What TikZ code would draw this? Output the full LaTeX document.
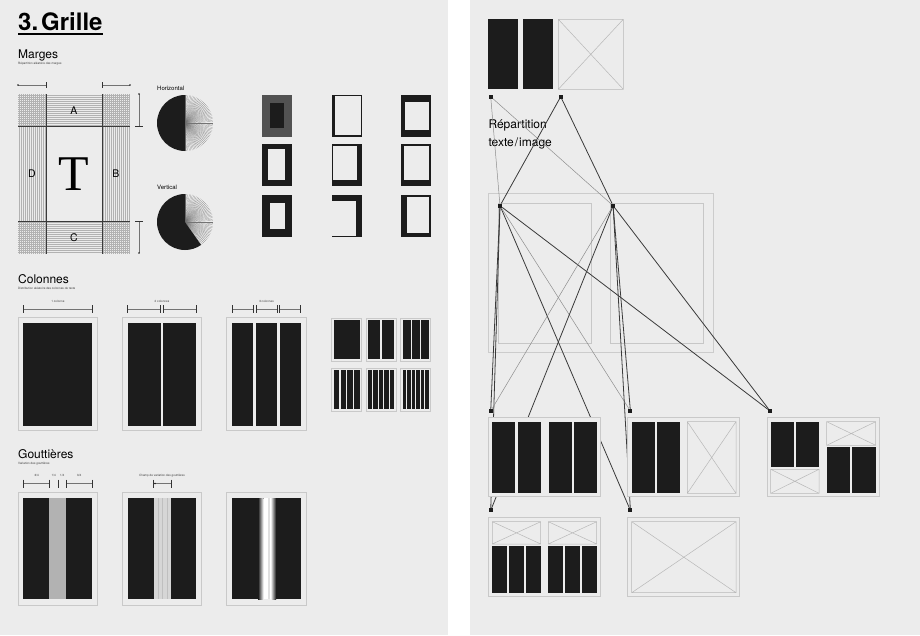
\documentclass[tikz,border=0pt]{standalone}
\usepackage{fontspec}
\setmainfont{TeX Gyre Heros}
\newfontfamily\serifT{Liberation Serif}
\usetikzlibrary{positioning}

\definecolor{paper}{HTML}{ECECEC}
\definecolor{ink}{HTML}{1C1C1C}
\definecolor{rule}{HTML}{C9C9C9}
\definecolor{wire}{HTML}{3A3A3A}
\definecolor{wiregrey}{HTML}{8E8E8E}

\tikzset{
  page/.style={draw=rule, line width=1pt, fill=paper},
  img/.style={draw=black!28, line width=0.5pt},
  dot/.style={fill=ink, inner sep=0pt, minimum size=4pt},
  wire/.style={draw=wire, line width=0.8pt},
  thinwire/.style={draw=wiregrey, line width=0.5pt},
  dimline/.style={draw=black!55, line width=0.35pt},
  tick/.style={draw=black!80, line width=0.9pt},
  hatchline/.style={draw=black!30, line width=0.3pt},
  fanline/.style={draw=black!55, line width=0.15pt},
  title/.style={anchor=base west, inner sep=0pt, font=\fontsize{24}{24}\selectfont\bfseries},
  heading/.style={anchor=base west, inner sep=0pt, font=\fontsize{12}{12}\selectfont},
  subhead/.style={anchor=base west, inner sep=0pt, font=\fontsize{3}{3}\selectfont, text=black!75},
  dimlabel/.style={anchor=base, inner sep=0pt, font=\fontsize{3}{3}\selectfont, text=black!75},
  small/.style={anchor=base west, inner sep=0pt, font=\fontsize{6}{6}\selectfont},
  letter/.style={inner sep=0pt, font=\fontsize{10.5}{10.5}\selectfont},
}

% image placeholder: x1 y1 x2 y2
\newcommand{\imgbox}[4]{%
  \draw[img] (#1,#2) rectangle (#3,#4) (#1,#2) -- (#3,#4) (#1,#4) -- (#3,#2);}
% text columns: x1 y1 x2 y2 number gap
\newcommand{\colset}[6]{%
  \pgfmathsetmacro\colw{((#3)-(#1)-((#5)-1)*(#6))/(#5)}%
  \pgfmathsetmacro\colh{(#4)-(#2)}%
  \foreach \k in {1,...,#5}{%
    \pgfmathsetmacro\colx{(#1)+(\k-1)*(\colw+(#6))}%
    \fill[ink] (\colx,{#2}) rectangle ++(\colw,\colh);}}
% margin frame: x y left right top bottom
\newcommand{\marge}[6]{%
  \fill[ink] (#1,#2) rectangle ++(30,42);
  \fill[paper] ({#1+#3},{#2+#5}) rectangle ({#1+30-#4},{#2+42-#6});}
% fan: cx cy end angle of the black sector
\newcommand{\fan}[3]{%
  \foreach \a in {-90,-87,...,#3} \draw[fanline] (#1,#2) -- ++(\a:28);
  \fill[ink] (#1,#2) -- ++(270:28) arc[start angle=270, end angle=#3, radius=28] -- cycle;}

\begin{document}
\begin{tikzpicture}[x=1pt, y=-1pt]
  \useasboundingbox (0,0) rectangle (920,635);
  \fill[paper] (0,0) rectangle (448,635);
  \fill[white] (448,0) rectangle (470,635);
  \fill[paper] (470,0) rectangle (920,635);

  % Headings
  \node[title] (title) at (18,30) {3.\kern3pt Grille};
  \draw[line width=2pt] ([yshift=-3.5pt]title.base west) -- ([yshift=-3.5pt]title.base east);
  \node[heading] (hmarges) at (18,58) {Marges};
  \node[subhead] (smarges) at (18,64) {Répartition aléatoire des marges};
  \node[heading] (hcol) at (18,283) {Colonnes};
  \node[subhead] (scol) at (18,289) {Distribution aléatoire des colonnes de texte};
  \node[heading] (hgout) at (18,458) {Gouttières};
  \node[subhead] (sgout) at (18,464) {Variation des gouttières};

  % Marges
  \foreach \y in {95,97,...,125,222,224,...,252} \draw[hatchline] (18,\y) -- (130,\y);
  \foreach \x in {19,21,...,45,103,105,...,129} \draw[hatchline] (\x,94) -- (\x,254);
  \draw[wire] (18,126) -- (130,126) (18,221) -- (130,221) (46,94) -- (46,254) (102,94) -- (102,254);
  \node[letter] (la) at (74,111) {A};
  \node[letter] (lb) at (116,174) {B};
  \node[letter] (lc) at (74,238) {C};
  \node[letter] (ld) at (32,174) {D};
  \node[inner sep=0pt, font=\serifT\fontsize{50}{50}\selectfont] (lt) at (74,174) {T};
  \draw[dimline] (18,85) -- (46,85) (102,85) -- (130,85) (139,94) -- (139,126) (139,221) -- (139,253);
  \draw[tick] (46,82) -- (46,88) (102,82) -- (102,88) (135,126) -- (143,126) (135,221) -- (143,221);
  \fill[ink] (18,85) circle (0.8) (130,85) circle (0.8) (139,94) circle (0.8) (139,253) circle (0.8);

  \node[small] (lhor) at (157,90) {Horizontal};
  \fan{185}{123}{90}
  \node[small] (lver) at (157,189) {Vertical};
  \fan{185}{222}{55}

  \fill[black!68] (262,95) rectangle ++(30,42);
  \fill[ink] (270,103) rectangle (284,127.5);
  \marge{331.7}{95}{3.3}{1}{1}{1.6}
  \marge{401}{95}{4}{1.7}{7.3}{7.3}
  \marge{262}{144}{6.3}{7.4}{5}{6}
  \marge{331.7}{144}{1.6}{4.3}{1.7}{6.3}
  \marge{401}{144}{3.3}{1.7}{2.3}{6}
  \marge{262}{194.5}{8}{7.4}{8.3}{8}
  \marge{331.7}{194.5}{0}{6}{6.3}{1}
  \marge{401}{194.5}{5.7}{2.3}{2.7}{3.4}

  % Colonnes
  \node[dimlabel] (c1) at (58,302) {1 colonne};
  \node[dimlabel] (c2) at (162,302) {2 colonnes};
  \node[dimlabel] (c3) at (266.5,302) {3 colonnes};
  \foreach \a/\b in {23.3/92.3,127.7/160.7,163.3/196.3,232.3/253.3,256/277,279.3/300.7}
    \draw[dimline] (\a,309) -- (\b,309);
  \foreach \x in {23.3,92.3,127.7,160.7,163.3,196.3,232.3,253.3,256,277,279.3,300.7}
    \draw[tick] (\x,305) -- (\x,313);
  \draw[page] (18.3,317.7) rectangle (97.3,430.7);
  \colset{23.3}{323.3}{92.3}{425.7}{1}{0}
  \draw[page] (122.3,317.7) rectangle (201.7,430.7);
  \colset{127.7}{323.3}{196.3}{425.7}{2}{2.6}
  \draw[page] (226.7,317.7) rectangle (306.7,430.7);
  \colset{232.3}{323.3}{300.7}{425.7}{3}{2.7}
  \foreach \n/\x/\y in {1/331.7/318.3, 2/366/318.3, 3/400.7/318.3, 4/331.7/368.3, 5/366/368.3, 6/400.7/368.3}{
    \draw[page] (\x,\y) rectangle ++(30,43);
    \colset{\x+2}{\y+2}{\x+28}{\y+41}{\n}{1.2}
  }

  % Gouttieres
  \foreach \t/\x in {{3/4}/36.7, {1/4}/53.6, {1/4}/62.3, {3/4}/79.3}
    \node[dimlabel] at (\x,476) {\t};
  \node[dimlabel] (champ) at (162,476) {Champ de variation des gouttières};
  \draw[dimline] (23.3,483.5) -- (49.3,483.5) (66.7,483.5) -- (92,483.5) (153.3,483.5) -- (171,483.5);
  \foreach \x in {23.3,49.3,58,66.7,92,153.3,171}
    \draw[tick] (\x,479.5) -- (\x,487.5);
  \fill[ink] (155,483.5) circle (0.8);
  \draw[page] (18.3,492.3) rectangle (97.3,605);
  \fill[ink] (23.3,498.3) rectangle (92,599.3);
  \fill[black!30] (49.3,498.3) rectangle (66,599.3);
  \draw[page] (122.3,492.3) rectangle (201.7,605);
  \fill[ink] (127.7,498.3) rectangle (196.3,599.3);
  \fill[black!16] (154,498.3) rectangle (171,599.3);
  \foreach \x in {158.3,162.5,166.7} \draw[black!25, line width=0.3pt] (\x,498.3) -- (\x,599.3);
  \draw[page] (226.7,492.3) rectangle (306.7,605);
  \fill[ink] (232.3,498.3) rectangle (300.7,599.3);
  \shade[left color=ink, right color=white] (258,498.3) rectangle (263.5,599.3);
  \fill[white] (263.5,498.3) rectangle (270.5,599.3);
  \fill[black!12] (267.5,498.3) rectangle (269.5,599.3);
  \shade[left color=white, right color=ink] (270.5,498.3) rectangle (276,599.3);

  % Right page: layouts
  \fill[ink] (488.3,19.3) rectangle (518.3,89.3);
  \fill[ink] (523.3,19.3) rectangle (553.3,89.3);
  \imgbox{558.3}{19.3}{623.3}{89.3}
  \node[anchor=base west, inner sep=0pt, align=left, font=\fontsize{12}{18}\selectfont] (rep) at (488.3,146.5) {Répartition\\texte\kern1pt/\kern1pt image};
  \draw[img, draw=black!20, line width=0.9pt] (488.3,193.3) rectangle (713.3,352.7);
  \draw[img, draw=black!22] (498.3,203.3) rectangle (591.7,343.3);
  \draw[img, draw=black!22] (610,203.3) rectangle (703.3,343.3);

  % Define nodes
  \node[dot] (tcol) at (490.7,96.7) {};
  \node[dot, right=65.6pt of tcol] (timg) {};
  \node[dot] (sl) at (500,205.7) {};
  \node[dot, right=108.7pt of sl] (sr) {};
  \node[dot] (pa) at (490.7,411) {};
  \node[dot, right=135.3pt of pa] (pb) {};
  \node[dot, right=135.3pt of pb] (pc) {};
  \node[dot, below=95pt of pa] (pd) {};
  \node[dot, below=95pt of pb] (pe) {};

  % Connect the nodes
  \foreach \a/\b/\s in {tcol/sl/thinwire, tcol/sr/thinwire, timg/sl/wire, timg/sr/wire,
      sl/pa/wire, sl/pd/wire, sl/pe/wire, sl/pb/thinwire, sl/pc/wire,
      sr/pa/thinwire, sr/pd/wire, sr/pb/wire, sr/pe/wire, sr/pc/wire}
    \draw[\s] (\a) -- (\b);

  \draw[page] (488.3,417.7) rectangle (600,496.7);
  \colset{492.3}{421.7}{540.7}{493.3}{2}{2.4}
  \colset{548.7}{421.7}{596.7}{493.3}{2}{2.4}
  \draw[page] (627.7,417.7) rectangle (739.3,496.7);
  \colset{631.7}{421.7}{680}{493.3}{2}{2.4}
  \imgbox{687.3}{421.7}{736}{493.3}
  \draw[page] (767.3,417.7) rectangle (879.3,496.7);
  \colset{770.7}{421.7}{819}{467.3}{2}{2}
  \imgbox{770.7}{469.3}{819}{493.3}
  \imgbox{826.7}{421.7}{875.7}{445.3}
  \colset{826.7}{447.3}{875.7}{493.3}{2}{2.3}
  \draw[page] (488.3,517.3) rectangle (600,596);
  \imgbox{492.3}{521.7}{540.7}{544}
  \colset{492.3}{546}{540.7}{592.7}{3}{2}
  \imgbox{548.3}{521.7}{596.7}{544}
  \colset{548.3}{546}{596.7}{592.7}{3}{2}
  \draw[page] (627.7,517.3) rectangle (739.3,596);
  \imgbox{631.7}{521.7}{736}{592.7}
\end{tikzpicture}
\end{document}
